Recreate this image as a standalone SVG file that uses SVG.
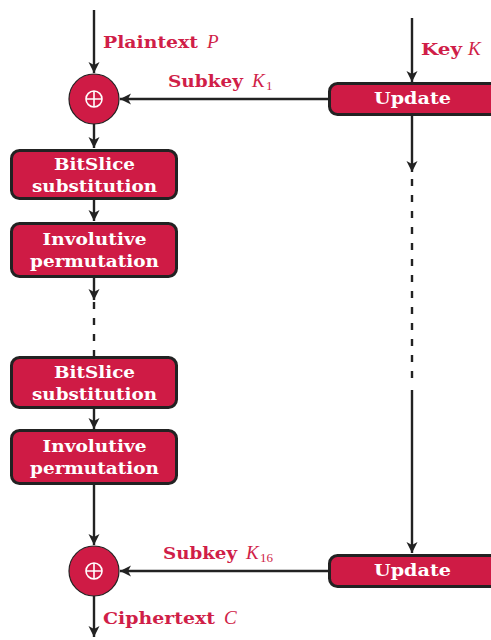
<svg xmlns="http://www.w3.org/2000/svg" width="491" height="640" viewBox="0 0 491 640">
<style>
.box{fill:#cf1b45;stroke:#222;stroke-width:3}
.bt{fill:#fff;font-family:"DejaVu Serif",serif;font-weight:bold;font-size:17px;text-anchor:middle}
.lb{fill:#d01e48;font-family:"DejaVu Serif",serif;font-weight:bold;font-size:17px}
.it{fill:#d01e48;font-family:"Liberation Serif",serif;font-style:italic;font-size:19px}
.sub{fill:#d01e48;font-family:"Liberation Serif",serif;font-size:13px}
.ln{stroke:#222;stroke-width:2.4;fill:none}
.ds{stroke:#222;stroke-width:2.4;fill:none;stroke-dasharray:7 9}
.xor{fill:#cf1b45;stroke:#222;stroke-width:1.2}
.pl{fill:none;stroke:#fff;stroke-width:1.6}
</style>
<defs>
<marker id="ah" markerUnits="userSpaceOnUse" markerWidth="12" markerHeight="12" viewBox="-11 -6 12 12" refX="0" refY="0" orient="auto">
<path d="M-11,-5.5 L0,0 L-11,5.5 L-8,0 z" fill="#222"/>
</marker>
</defs>
<g id="connectors">
<line class="ln" x1="94" y1="10" x2="94" y2="73" marker-end="url(#ah)"/>
<line class="ln" x1="94" y1="124" x2="94" y2="148" marker-end="url(#ah)"/>
<line class="ln" x1="94" y1="199" x2="94" y2="221" marker-end="url(#ah)"/>
<line class="ln" x1="94" y1="277" x2="94" y2="300" marker-end="url(#ah)"/>
<line class="ds" x1="94" y1="302" x2="94" y2="356"/>
<line class="ln" x1="94" y1="408" x2="94" y2="429" marker-end="url(#ah)"/>
<line class="ln" x1="94" y1="484" x2="94" y2="545" marker-end="url(#ah)"/>
<line class="ln" x1="94" y1="596" x2="94" y2="637" marker-end="url(#ah)"/>
<line class="ln" x1="412" y1="18" x2="412" y2="82" marker-end="url(#ah)"/>
<line class="ln" x1="412" y1="116" x2="412" y2="172" marker-end="url(#ah)"/>
<line class="ds" x1="412" y1="179" x2="412" y2="381"/>
<line class="ln" x1="412" y1="390" x2="412" y2="553" marker-end="url(#ah)"/>
<line class="ln" x1="329" y1="99" x2="120" y2="99" marker-end="url(#ah)"/>
<line class="ln" x1="329" y1="571" x2="120" y2="571" marker-end="url(#ah)"/>
</g>
<g id="xor1">
<circle class="xor" cx="94" cy="99" r="25"/>
<circle class="pl" cx="94" cy="99" r="8"/>
<path class="pl" d="M86,99 H102 M94,91 V107"/>
</g>
<g id="xor2">
<circle class="xor" cx="94" cy="571" r="25"/>
<circle class="pl" cx="94" cy="571" r="8"/>
<path class="pl" d="M86,571 H102 M94,563 V579"/>
</g>
<g id="bitslice1">
<rect class="box" x="11.5" y="150.5" width="165" height="48" rx="8"/>
<text class="bt" x="94.5" y="170" textLength="81" lengthAdjust="spacingAndGlyphs">BitSlice</text>
<text class="bt" x="94.5" y="192" textLength="125" lengthAdjust="spacingAndGlyphs">substitution</text>
</g>
<g id="perm1">
<rect class="box" x="11.5" y="223.5" width="165" height="53" rx="8"/>
<text class="bt" x="94.5" y="245" textLength="104" lengthAdjust="spacingAndGlyphs">Involutive</text>
<text class="bt" x="94.5" y="267" textLength="129" lengthAdjust="spacingAndGlyphs">permutation</text>
</g>
<g id="bitslice2">
<rect class="box" x="11.5" y="357.5" width="165" height="50" rx="8"/>
<text class="bt" x="94.5" y="378" textLength="81" lengthAdjust="spacingAndGlyphs">BitSlice</text>
<text class="bt" x="94.5" y="400" textLength="125" lengthAdjust="spacingAndGlyphs">substitution</text>
</g>
<g id="perm2">
<rect class="box" x="11.5" y="430.5" width="165" height="53" rx="8"/>
<text class="bt" x="94.5" y="452" textLength="104" lengthAdjust="spacingAndGlyphs">Involutive</text>
<text class="bt" x="94.5" y="474" textLength="129" lengthAdjust="spacingAndGlyphs">permutation</text>
</g>
<g id="update1">
<rect class="box" x="329.5" y="83.5" width="172" height="31" rx="8"/>
<text class="bt" x="412.5" y="104" textLength="77" lengthAdjust="spacingAndGlyphs">Update</text>
</g>
<g id="update2">
<rect class="box" x="329.5" y="555.5" width="172" height="31" rx="8"/>
<text class="bt" x="412.5" y="576" textLength="77" lengthAdjust="spacingAndGlyphs">Update</text>
</g>
<g id="labels">
<text class="lb" x="103" y="48" textLength="95" lengthAdjust="spacingAndGlyphs">Plaintext</text>
<text class="it" x="207" y="48">P</text>
<text class="lb" x="168" y="87" textLength="75" lengthAdjust="spacingAndGlyphs">Subkey</text>
<text class="it" x="252" y="87">K</text>
<text class="sub" x="266" y="90">1</text>
<text class="lb" x="421" y="55" textLength="41" lengthAdjust="spacingAndGlyphs">Key</text>
<text class="it" x="468" y="55">K</text>
<text class="lb" x="163" y="559" textLength="74" lengthAdjust="spacingAndGlyphs">Subkey</text>
<text class="it" x="246" y="559">K</text>
<text class="sub" x="260" y="562">16</text>
<text class="lb" x="103" y="624" textLength="112" lengthAdjust="spacingAndGlyphs">Ciphertext</text>
<text class="it" x="224" y="624">C</text>
</g>
</svg>
